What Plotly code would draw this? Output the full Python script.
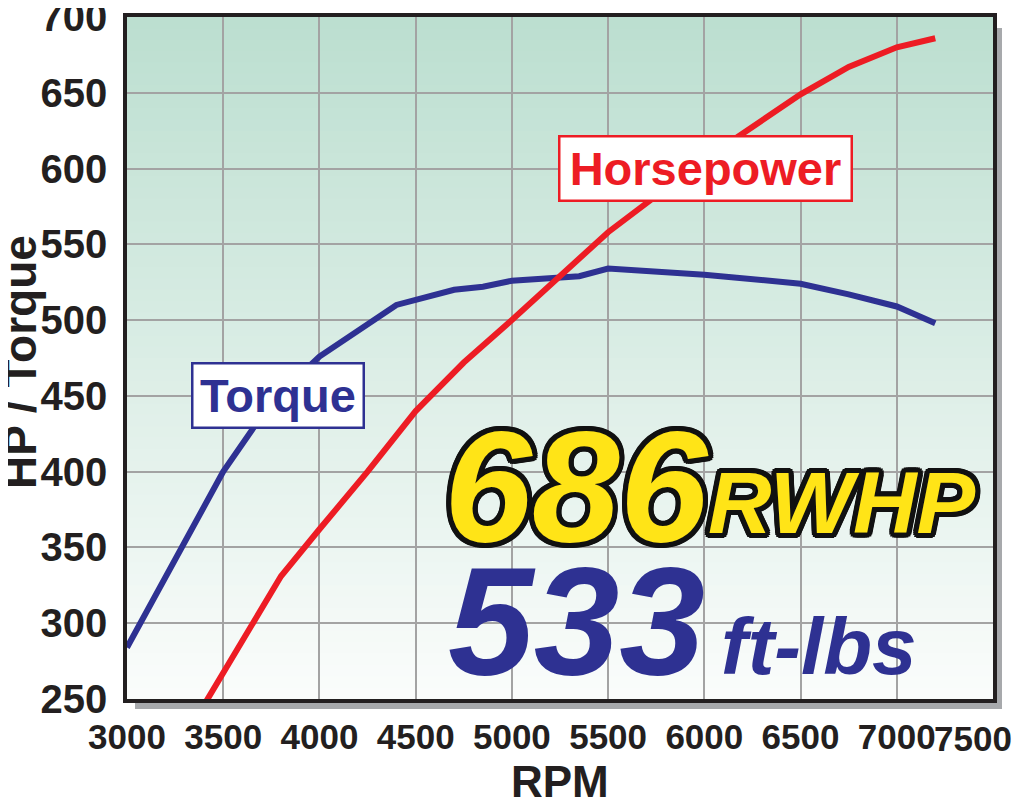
import plotly.graph_objects as go

# dyno readings (rpm -> value)
hp_rpm = [3400, 3800, 4000, 4250, 4500, 4750, 5000, 5500, 6000, 6500, 6750, 7000, 7200]
hp_val = [246, 331, 362, 400, 440, 472, 500, 558, 606, 649, 667, 680, 686]

tq_rpm = [3000, 3500, 3750, 4000, 4400, 4700, 4850, 5000, 5350, 5500, 6000, 6500, 6750, 7000, 7200]
tq_val = [284, 400, 446, 476, 510, 520, 522, 526, 529, 534, 530, 524, 517, 509, 498]

x_ticks = [3000, 3500, 4000, 4500, 5000, 5500, 6000, 6500, 7000, 7500]
y_ticks = [250, 300, 350, 400, 450, 500, 550, 600, 650, 700]

RED = "#ed1c24"
BLUE = "#2e3192"
DARK = "#231f20"
FONT = "Liberation Sans, Arial, sans-serif"
X_TICK_FONT = dict(family=FONT, size=35, color=DARK, weight="bold")
Y_TICK_FONT = dict(family=FONT, size=40, color=DARK, weight="bold")

fig = go.Figure()

fig.add_trace(go.Scatter(x=tq_rpm, y=tq_val, mode="lines", name="Torque",
                         line=dict(color=BLUE, width=6)))
fig.add_trace(go.Scatter(x=hp_rpm, y=hp_val, mode="lines", name="Horsepower",
                         line=dict(color=RED, width=6)))

# drop shadow behind the plot frame
fig.add_shape(type="rect", xref="paper", yref="paper",
              x0=8 / 866, x1=1 + 9 / 866, y0=-10 / 682, y1=1 - 11 / 682,
              fillcolor="#a7a9ac", line_width=0, layer="below")

# vertical background gradient, teal at top fading to white
n = 60
top = (188, 223, 208)
bot = (250, 252, 251)
for i in range(n):
    t = i / (n - 1)
    c = tuple(round(top[k] + (bot[k] - top[k]) * t) for k in range(3))
    fig.add_shape(type="rect", xref="x domain", yref="y domain",
                  x0=0, x1=1, y0=1 - (i + 1) / n - 0.002, y1=1 - i / n,
                  fillcolor="rgb(%d,%d,%d)" % c, line_width=0, layer="below")


def label(**kw):
    kw.setdefault("showarrow", False)
    kw.setdefault("xanchor", "center")
    kw.setdefault("yanchor", "middle")
    fig.add_annotation(**kw)


# pixel positions (on the page) -> paper coordinates of the plot area
def px_x(p):
    return (p - 127) / 866


def px_y(p):
    return (699 - p) / 682


# series labels
label(x=6005, y=600, text="<b>Horsepower</b>",
      font=dict(family=FONT, size=47, color=RED),
      bgcolor="white", bordercolor=RED, borderwidth=2.5,
      width=290, height=62, borderpad=0)
label(x=3785, y=450.5, text="<b>Torque</b>",
      font=dict(family=FONT, size=47, color=BLUE),
      bgcolor="white", bordercolor=BLUE, borderwidth=2.5,
      width=169, height=62, borderpad=0)

# headline figures
outline = ", ".join("%gpx %gpx 0 #111" % (dx, dy) for dx, dy in
                    [(5, 0), (-5, 0), (0, 5), (0, -5), (4, 4), (-4, 4), (4, -4), (-4, -4),
                     (5, 2), (-5, 2), (5, -2), (-5, -2), (2, 5), (-2, 5), (2, -5), (-2, -5)])
label(xref="paper", yref="paper", x=px_x(576), y=px_y(486), text="686",
      font=dict(family=FONT, size=158, color="#ffe417", weight="bold",
                style="italic", shadow=outline))
label(xref="paper", yref="paper", x=px_x(842), y=px_y(502), text="RWHP",
      font=dict(family=FONT, size=88, color="#ffe417", weight="bold",
                style="italic", shadow=outline))
label(xref="paper", yref="paper", x=px_x(576), y=px_y(622), text="533",
      font=dict(family=FONT, size=154, color=BLUE, weight="bold", style="italic"))
label(xref="paper", yref="paper", x=px_x(819), y=px_y(646), text="ft-lbs",
      font=dict(family=FONT, size=80, color=BLUE, weight="bold", style="italic"))

# axis titles
label(xref="paper", yref="paper", x=px_x(20), y=px_y(362),
      text="<b>HP / Torque</b>", textangle=-90,
      font=dict(family=FONT, size=46, color=DARK))
label(xref="paper", yref="paper", x=0.5, y=px_y(782),
      text="<b>RPM</b>", font=dict(family=FONT, size=44, color=DARK))

# last x tick label would run off the page, so it is right-aligned to the edge
x_text = [str(v) for v in x_ticks]
last = x_text[-1]
x_text[-1] = ""
label(xref="paper", yref="paper", x=px_x(1014), y=px_y(738), xanchor="right",
      text=last, font=X_TICK_FONT)

axis_common = dict(showgrid=True, gridcolor="#a3a3a3", gridwidth=2,
                   showline=True, linecolor=DARK, linewidth=3.5, mirror=True,
                   zeroline=False, ticks="", automargin=False, tickangle=0,
                   ticklabeloverflow="allow")

fig.update_xaxes(range=[3000, 7500], tickvals=x_ticks, ticktext=x_text,
                 ticklabelstandoff=4, tickfont=X_TICK_FONT, **axis_common)
fig.update_yaxes(range=[250, 700], tickvals=y_ticks, ticktext=[str(v) for v in y_ticks],
                 ticklabelstandoff=8, tickfont=Y_TICK_FONT, **axis_common)

# the page adds an 8 px body margin, so the figure is narrowed and the
# margins below are shifted by it
fig.update_layout(width=1008, height=800,
                  margin=dict(l=119, r=23, t=9, b=109),
                  paper_bgcolor="white", plot_bgcolor="rgba(0,0,0,0)",
                  showlegend=False)

fig.write_html("out.html")
